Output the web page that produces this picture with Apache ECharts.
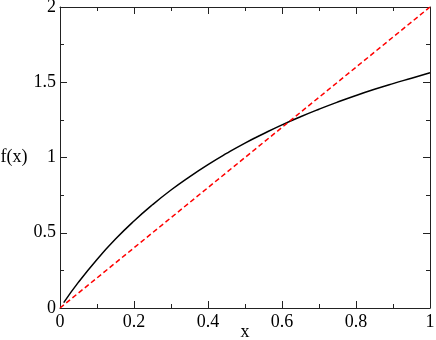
<!DOCTYPE html>
<html>
<head>
<meta charset="utf-8">
<script src="https://cdn.jsdelivr.net/npm/echarts@6/dist/echarts.min.js"></script>
<style>
  html, body { margin: 0; padding: 0; background: #fff; }
  #chart { width: 436px; height: 340px; }
</style>
</head>
<body>
<div id="chart"></div>
<script>
// values
var xValues = [0.01, 0.05, 0.1, 0.15, 0.2, 0.25, 0.3, 0.35, 0.4, 0.45, 0.5,
               0.55, 0.6, 0.65, 0.7, 0.75, 0.8, 0.85, 0.9, 0.95, 1.0]
var fValues = [0.036, 0.172, 0.323, 0.458, 0.578, 0.686, 0.784, 0.872, 0.953, 1.027, 1.096,
               1.158, 1.217, 1.271, 1.321, 1.368, 1.412, 1.453, 1.491, 1.527, 1.563]
var lineX = [0, 1]
var lineY = [0, 2]

var font = '"Liberation Serif", "Times New Roman", serif'
var axisColor = '#222'

function pairs(xs, ys) {
  return xs.map(function (x, i) { return [x, ys[i]] })
}

var chart = echarts.init(document.getElementById('chart'))

var tickCommon = {
  axisLine: { show: true, onZero: false, lineStyle: { color: axisColor, width: 1 } },
  axisTick: { show: true, inside: true, length: 7, lineStyle: { color: axisColor } },
  minorTick: { show: true, splitNumber: 2, length: 4, lineStyle: { color: axisColor } },
  splitLine: { show: false }
}

chart.setOption({
  animation: false,
  grid: { left: 60, right: 6, top: 7, bottom: 32, outerBoundsMode: 'none', containLabel: false },
  xAxis: [
    Object.assign({
      type: 'value', min: 0, max: 1, interval: 0.2,
      name: 'x', nameLocation: 'middle', nameGap: 18, nameMoveOverlap: false,
      nameTextStyle: { fontFamily: font, fontSize: 18, color: '#000', lineHeight: 12 },
      axisLabel: {
        fontFamily: font, fontSize: 18, color: '#000', margin: 5,
        showMinLabel: true, showMaxLabel: true,
        formatter: function (v) { return String(+v.toFixed(1)) }
      }
    }, tickCommon),
    Object.assign({
      type: 'value', min: 0, max: 1, interval: 0.2, position: 'top',
      axisLabel: { show: false }
    }, tickCommon)
  ],
  yAxis: [
    Object.assign({
      type: 'value', min: 0, max: 2, interval: 0.5,
      name: 'f(x)', nameLocation: 'middle', nameGap: 31, nameRotate: 0,
      nameTextStyle: { fontFamily: font, fontSize: 18, color: '#000' },
      axisLabel: {
        fontFamily: font, fontSize: 18, color: '#000', margin: 4,
        showMinLabel: true, showMaxLabel: true,
        formatter: function (v) { return String(+v.toFixed(1)) }
      }
    }, tickCommon),
    Object.assign({
      type: 'value', min: 0, max: 2, interval: 0.5, position: 'right',
      axisLabel: { show: false }
    }, tickCommon)
  ],
  series: [
    {
      type: 'line',
      data: pairs(xValues, fValues),
      smooth: true,
      showSymbol: false,
      lineStyle: { color: '#000', width: 1.5 }
    },
    {
      type: 'line',
      data: pairs(lineX, lineY),
      showSymbol: false,
      lineStyle: { color: '#ff0000', width: 1.5, type: [5, 3] }
    }
  ]
})
</script>
</body>
</html>
